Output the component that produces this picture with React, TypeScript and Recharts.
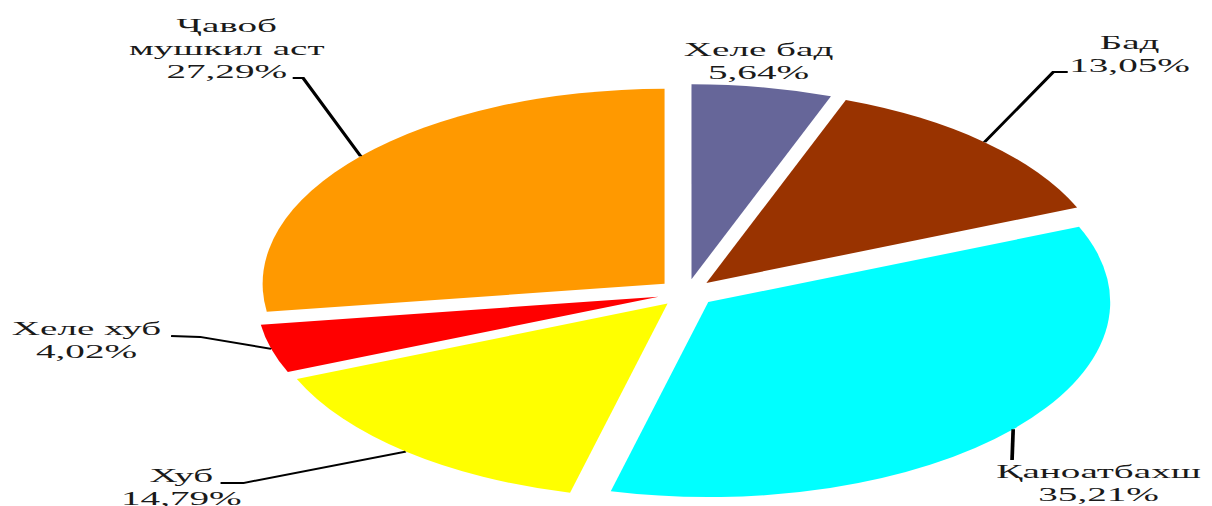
import React from 'react';
import { PieChart, Pie, Cell, Sector } from 'recharts';

// survey answers, share in percent (clockwise from 12 o'clock)
const categories = ['Хеле бад', 'Бад', 'Қаноатбахш', 'Хуб', 'Хеле хуб', 'Ҷавоб мушкил аст'];
const shares = [5.64, 13.05, 35.21, 14.79, 4.02, 27.29];
const sliceColors = ['#666699', '#993300', '#00FFFF', '#FFFF00', '#FF0000', '#FF9900'];

const data = categories.map((name, i) => ({ name, value: shares[i] }));

// the original picture is stretched sideways, so the chart is drawn narrow and scaled
const OUT_W = 1212;
const OUT_H = 506;
const INNER_W = 588;
const STRETCH = OUT_W / INNER_W;
const CX = 333;
const CY = 293;
const RADIUS = 195;
const EXPLODE = 14;
const LINE_GAP = 23;
const RAD = Math.PI / 180;

// label placement relative to the pie centre (x, y = last line baseline)
type Spot = { x: number; y: number; wrap?: boolean; elbow?: [number, number]; end?: [number, number] };
const labelSpots: Spot[] = [
  { x: 35, y: -214 },
  { x: 215, y: -221, elbow: [178, -221], end: [185, -221] },
  { x: 200, y: 208, end: [158, 167] },
  { x: -245, y: 212, elbow: [-215, 190], end: [-226, 190] },
  { x: -291, y: 65, elbow: [-236, 44], end: [-250, 43] },
  { x: -223, y: -215, wrap: true, elbow: [-186, -215], end: [-191, -215] },
];

const fmt = (v: number) => `${v.toFixed(2).replace('.', ',')}%`;

const explodedSector = (props: any) => {
  const { cx, cy, midAngle, innerRadius, outerRadius, startAngle, endAngle, fill } = props;
  return (
    <Sector
      cx={cx + EXPLODE * Math.cos(-midAngle * RAD)}
      cy={cy + EXPLODE * Math.sin(-midAngle * RAD)}
      innerRadius={innerRadius}
      outerRadius={outerRadius}
      startAngle={startAngle}
      endAngle={endAngle}
      fill={fill}
      stroke="none"
    />
  );
};

const renderLabel = (props: any) => {
  const { cx, cy, midAngle, outerRadius, index, name, value } = props;
  const spot = labelSpots[index];
  const lines: string[] = [];
  if (spot.wrap) {
    const cut = name.indexOf(' ');
    lines.push(name.slice(0, cut), name.slice(cut + 1));
  } else {
    lines.push(name);
  }
  lines.push(fmt(value));

  const r = outerRadius + EXPLODE;
  const px = cx + r * Math.cos(-midAngle * RAD);
  const py = cy + r * Math.sin(-midAngle * RAD);
  let path = '';
  if (spot.end) {
    path = `M${px},${py}`;
    if (spot.elbow) path += `L${cx + spot.elbow[0]},${cy + spot.elbow[1]}`;
    path += `L${cx + spot.end[0]},${cy + spot.end[1]}`;
  }
  const top = cy + spot.y - (lines.length - 1) * LINE_GAP;

  return (
    <g key={`lbl-${index}`}>
      {path && <path d={path} stroke="#000" strokeWidth={1.8} fill="none" />}
      <text
        x={cx + spot.x}
        y={top}
        textAnchor="middle"
        fill="#1a1a1a"
        fontSize={19}
        fontFamily="'Liberation Serif', 'Times New Roman', serif"
      >
        {lines.map((t, i) => (
          <tspan key={i} x={cx + spot.x} y={top + i * LINE_GAP}>
            {t}
          </tspan>
        ))}
      </text>
    </g>
  );
};

export default function App() {
  return (
    <div
      style={{
        position: 'absolute',
        left: 0,
        top: 0,
        width: OUT_W,
        height: OUT_H,
        overflow: 'hidden',
        background: '#fff',
      }}
    >
      <div style={{ width: INNER_W, height: OUT_H, transform: `scaleX(${STRETCH})`, transformOrigin: '0 0' }}>
        <PieChart width={INNER_W} height={OUT_H} margin={{ top: 0, right: 0, bottom: 0, left: 0 }}>
          <Pie
            data={data}
            dataKey="value"
            nameKey="name"
            cx={CX}
            cy={CY}
            outerRadius={RADIUS}
            startAngle={90}
            endAngle={-270}
            stroke="none"
            isAnimationActive={false}
            label={renderLabel}
            labelLine={false}
            shape={explodedSector}
            inactiveShape={explodedSector}
            activeShape={explodedSector}
          >
            {data.map((d, i) => (
              <Cell key={d.name} fill={sliceColors[i]} />
            ))}
          </Pie>
        </PieChart>
      </div>
    </div>
  );
}
